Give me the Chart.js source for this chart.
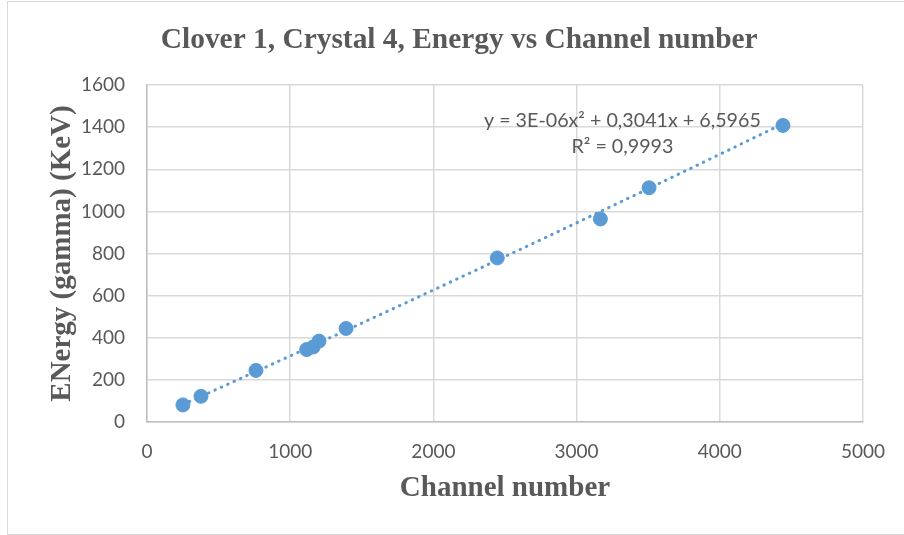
<!DOCTYPE html>
<html>
<head>
<meta charset="utf-8">
<script src="https://cdn.jsdelivr.net/npm/chart.js@4.4.1/dist/chart.umd.min.js"></script>
<style>
  html, body { margin: 0; padding: 0; background: #fff; }
  #frame { position: absolute; left: 7px; top: 1px; width: 896px; height: 532px; border: 1px solid #d9d9d9; }
  canvas { position: absolute; left: 0; top: 0; }
</style>
</head>
<body>
<div id="frame"></div>
<canvas id="chart" width="904" height="535"></canvas>
<script>
    // channel numbers and gamma energies
    const channels = [251, 377, 761, 1115, 1160, 1201, 1390, 2446, 3166, 3506, 4441];
    const energies = [81, 122, 245, 344, 356, 384, 444, 779, 964, 1112, 1408];

    // trendline coefficients as printed on the chart (a x^2 + b x + c)
    const trendCoef = [3e-6, 0.3041, 6.5965];
    const trendLabel = ['y = 3E-06x\u00b2 + 0,3041x + 6,5965', 'R\u00b2 = 0,9993'];

    const chartTitle = 'Clover 1, Crystal 4, Energy vs Channel number';
    const xTicks = [0, 1000, 2000, 3000, 4000, 5000];
    const yTicks = [0, 200, 400, 600, 800, 1000, 1200, 1400, 1600];

    const blue = '#5b9bd5';
    const grey = '#595959';

    function trendPoints() {
      const pts = [];
      const lo = Math.min(...channels), hi = Math.max(...channels);
      const steps = 60;
      for (let i = 0; i <= steps; i++) {
        const x = lo + (hi - lo) * i / steps;
        pts.push({ x: x, y: trendCoef[0] * x * x + trendCoef[1] * x + trendCoef[2] });
      }
      return pts;
    }

    // title and trendline equation, drawn by hand so they sit where Excel put them
    const labels = {
      id: 'labels',
      afterDatasetsDraw(chart) {
        const ctx = chart.ctx;
        const a = chart.chartArea;
        ctx.save();
        ctx.fillStyle = grey;
        ctx.textAlign = 'center';
        ctx.textBaseline = 'middle';
        ctx.font = 'bold 29.4px "Liberation Serif"';
        ctx.fillText(chartTitle, chart.width * 0.508, 40);
        ctx.font = '19.7px Lato';
        const cx = a.left + (a.right - a.left) * 0.664;
        ctx.fillText(trendLabel[0], cx, a.top + 36);
        ctx.fillText(trendLabel[1], cx, a.top + 62);
        ctx.restore();
      }
    };

    new Chart(document.getElementById('chart'), {
      type: 'scatter',
      data: {
        datasets: [{
          label: 'points',
          data: channels.map((c, i) => ({ x: c, y: energies[i] })),
          backgroundColor: blue,
          borderColor: blue,
          pointRadius: 7,
          pointHoverRadius: 7,
          order: 1
        }, {
          label: 'trend',
          type: 'line',
          data: trendPoints(),
          borderColor: blue,
          borderWidth: 3,
          borderDash: [0.5, 6.5],
          borderCapStyle: 'round',
          pointRadius: 0,
          fill: false,
          tension: 0,
          order: 2
        }]
      },
      options: {
        responsive: false,
        animation: false,
        layout: { padding: { left: 0, right: 41, top: 85, bottom: 0 } },
        plugins: {
          legend: { display: false },
          tooltip: { enabled: false },
          title: { display: false }
        },
        scales: {
          x: {
            type: 'linear',
            min: 0,
            max: 5000,
            afterBuildTicks: s => { s.ticks = xTicks.map(v => ({ value: v })); },
            afterFit: s => { s.height = 113; },
            grid: { color: '#d9d9d9', lineWidth: 1.5, drawTicks: false },
            border: { color: '#bfbfbf', width: 1.5 },
            ticks: { color: grey, font: { family: 'Lato', size: 19 }, padding: 18.6, maxRotation: 0,
                     callback: v => String(v) },
            title: {
              display: true,
              text: 'Channel number',
              color: grey,
              font: { family: 'Liberation Serif', size: 29, weight: 'bold', lineHeight: 1.2 },
              padding: { top: 0, bottom: 28.6 }
            }
          },
          y: {
            type: 'linear',
            min: 0,
            max: 1600,
            afterBuildTicks: s => { s.ticks = yTicks.map(v => ({ value: v })); },
            afterFit: s => { s.width = 147; },
            grid: { color: '#d9d9d9', lineWidth: 1.5, drawTicks: false },
            border: { color: '#bfbfbf', width: 1.5 },
            ticks: { color: grey, font: { family: 'Lato', size: 19 }, padding: 22,
                     callback: v => String(v) },
            title: {
              display: true,
              text: 'ENergy (gamma) (KeV)',
              color: grey,
              font: { family: 'Liberation Serif', size: 29, weight: 'bold', lineHeight: 1.2 },
              padding: { top: 45.6, bottom: 0 }
            }
          }
        }
      },
      plugins: [labels]
    });
</script>
</body>
</html>
